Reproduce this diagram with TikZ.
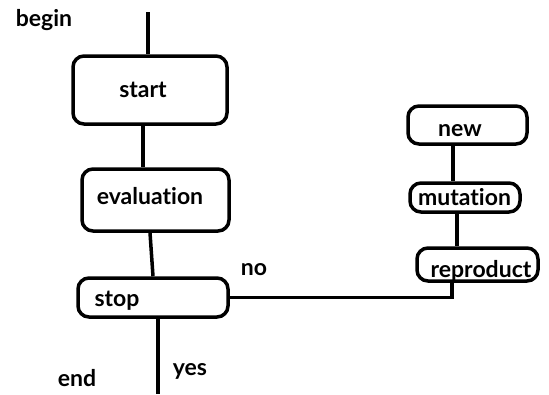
\documentclass[tikz,border=0pt]{standalone}
\usepackage{fontspec}
\setmainfont{Lato}[Ligatures={NoCommon,NoRare,NoDiscretionary}]
\begin{document}
\begin{tikzpicture}[x=1pt,y=-1pt,
  box/.style={draw=black, line width=3.5pt, rounded corners=11pt, inner sep=0pt},
  txt/.style={font=\fontsize{23}{25}\selectfont\bfseries, text=black},
  conn/.style={draw=black, line width=3.5pt}]
\useasboundingbox (0,0) rectangle (549,394);
% boxes
\node[box, minimum width=154pt, minimum height=68pt, label={[txt,xshift=-7pt]center:start}] (start) at (150,90) {};
\node[box, minimum width=147pt, minimum height=62pt, label={[txt,xshift=-5.5pt,yshift=4pt]center:evaluation}] (evaluation) at (155.5,200) {};
\node[box, minimum width=150pt, minimum height=39pt, label={[txt,xshift=-36pt,yshift=-3pt]center:stop}] (stop) at (153,297.5) {};
\node[box, minimum width=119pt, minimum height=38pt, label={[txt,xshift=-7.5pt,yshift=-6pt]center:new}] (new) at (467.5,125) {};
\node[box, minimum width=110pt, minimum height=29pt, label={[txt,xshift=-0.5pt]center:mutation}] (mutation) at (465,197.5) {};
\node[box, minimum width=121pt, minimum height=33pt, label={[txt,xshift=3.5pt,yshift=-6pt]center:reproduct}] (reproduct) at (477.5,264.5) {};
% free texts
\node[txt] (begin) at (44,20) {begin};
\node[txt] (end) at (77,378) {end};
\node[txt] (yes) at (190,371) {yes};
\node[txt] (no) at (254,270) {no};
% free ends
\coordinate (top) at (148,12);
\coordinate (bot) at (158,394);
% connectors
\draw[conn] (top) -- (top |- start.north);
\draw[conn] ([xshift=-7pt]start.south) -- ([xshift=-7pt]start.south |- evaluation.north);
\draw[conn] ([xshift=-5.5pt]evaluation.south) -- (stop.north);
\draw[conn] ([xshift=5pt]stop.south) -- (bot);
\draw[conn] (stop.east) -| ([xshift=-25.5pt]reproduct.south);
\draw[conn] ([xshift=-14.5pt]new.south) -- ([xshift=-14.5pt]new.south |- mutation.north);
\draw[conn] ([xshift=-8pt]mutation.south) -- ([xshift=-8pt]mutation.south |- reproduct.north);
\end{tikzpicture}
\end{document}
